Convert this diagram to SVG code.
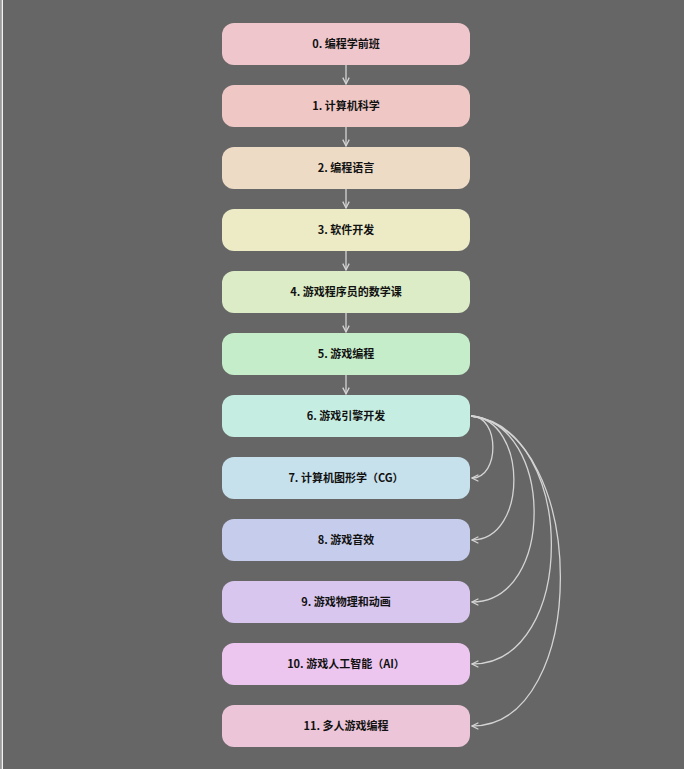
<svg xmlns="http://www.w3.org/2000/svg" width="684" height="769" viewBox="0 0 684 769">
  <defs>
    <marker id="arr" viewBox="0 0 10 10" refX="9" refY="5" markerWidth="8" markerHeight="8" orient="auto" markerUnits="userSpaceOnUse">
      <path d="M1,1 L9,5 L1,9" fill="none" stroke="#d4d4d4" stroke-width="1.6" stroke-linejoin="miter"/>
    </marker>
    <style>
      .node rect { stroke: none; }
      .node text { font-family: "Noto Sans CJK SC", "Noto Sans", sans-serif; font-size: 11px; font-weight: bold; fill: #111; text-anchor: middle; }
      .edge { fill: none; stroke: #d4d4d4; stroke-width: 1.3; marker-end: url(#arr); }
    </style>
  </defs>
  <rect x="0" y="0" width="684" height="769" fill="#666666"/>
  <rect x="0" y="0" width="1" height="769" fill="#9a9a9a"/>
  <rect x="1.5" y="0" width="1.5" height="769" fill="#f2f2f2"/>

  <g id="connectors">
    <path class="edge" d="M346,65 V84"/>
    <path class="edge" d="M346,127 V146"/>
    <path class="edge" d="M346,189 V208"/>
    <path class="edge" d="M346,251 V270"/>
    <path class="edge" d="M346,313 V332"/>
    <path class="edge" d="M346,375 V394"/>
    <path class="edge" d="M471,416 C500,416 500,478 472,478"/>
    <path class="edge" d="M471,416 C528,420 528,540 472,540"/>
    <path class="edge" d="M471,416 C555,424 555,602 472,602"/>
    <path class="edge" d="M471,416 C578,428 578,664 472,664"/>
    <path class="edge" d="M471,416 C590,432 590,726 472,726"/>
  </g>

  <g id="n0" class="node"><rect x="222" y="23" width="248" height="42" rx="12" fill="#efc6cc"/><text x="346" y="48">0. 编程学前班</text></g>
  <g id="n1" class="node"><rect x="222" y="85" width="248" height="42" rx="12" fill="#efc8c6"/><text x="346" y="110">1. 计算机科学</text></g>
  <g id="n2" class="node"><rect x="222" y="147" width="248" height="42" rx="12" fill="#eedbc6"/><text x="346" y="172">2. 编程语言</text></g>
  <g id="n3" class="node"><rect x="222" y="209" width="248" height="42" rx="12" fill="#ecebc6"/><text x="346" y="234">3. 软件开发</text></g>
  <g id="n4" class="node"><rect x="222" y="271" width="248" height="42" rx="12" fill="#dbecc6"/><text x="346" y="296">4. 游戏程序员的数学课</text></g>
  <g id="n5" class="node"><rect x="222" y="333" width="248" height="42" rx="12" fill="#c6edc9"/><text x="346" y="358">5. 游戏编程</text></g>
  <g id="n6" class="node"><rect x="222" y="395" width="248" height="42" rx="12" fill="#c6ede2"/><text x="346" y="420">6. 游戏引擎开发</text></g>
  <g id="n7" class="node"><rect x="222" y="457" width="248" height="42" rx="12" fill="#c6e0ec"/><text x="346" y="482">7. 计算机图形学（CG）</text></g>
  <g id="n8" class="node"><rect x="222" y="519" width="248" height="42" rx="12" fill="#c6cdec"/><text x="346" y="544">8. 游戏音效</text></g>
  <g id="n9" class="node"><rect x="222" y="581" width="248" height="42" rx="12" fill="#d8c6ee"/><text x="346" y="606">9. 游戏物理和动画</text></g>
  <g id="n10" class="node"><rect x="222" y="643" width="248" height="42" rx="12" fill="#ecc6ef"/><text x="346" y="668">10. 游戏人工智能（AI）</text></g>
  <g id="n11" class="node"><rect x="222" y="705" width="248" height="42" rx="12" fill="#ecc6d8"/><text x="346" y="730">11. 多人游戏编程</text></g>
</svg>
